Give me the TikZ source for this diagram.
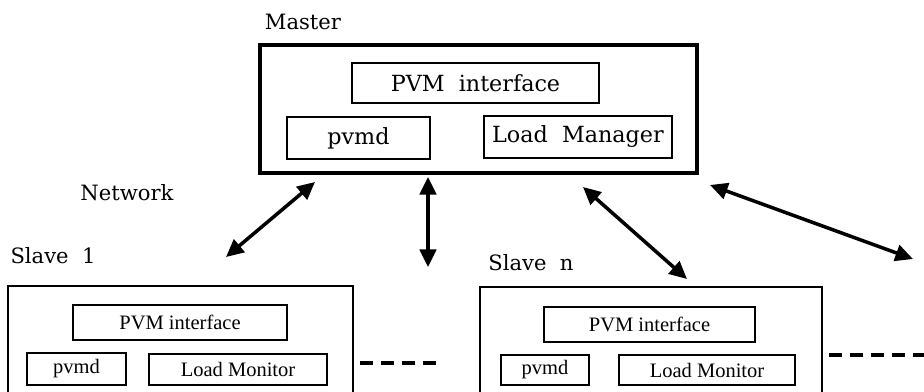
\documentclass[tikz,border=0pt]{standalone}
\usepackage{fontspec}
\setmainfont{DejaVu Serif}
\newfontfamily\slavefont{Liberation Serif}
\usepackage{tikz}
\usetikzlibrary{arrows.meta}
\tikzset{
  hostbox/.style={draw=black, line width=3.4pt, inner sep=0pt},
  slavebox/.style={draw=black, line width=2.4pt, inner sep=0pt},
  mpart/.style={draw=black, line width=1.2pt, inner sep=0pt, font=\fontsize{19}{22}\selectfont},
  spart/.style={draw=black, line width=1.2pt, inner sep=0pt, font=\slavefont\fontsize{17.5}{20}\selectfont},
  tag/.style={inner sep=0pt, font=\fontsize{18}{21}\selectfont},
  link/.style={{Triangle[length=15pt,width=14pt]}-{Triangle[length=15pt,width=14pt]}, line width=3pt},
  more/.style={dash pattern=on 11pt off 7pt, line width=2.6pt}
}

\begin{document}
\begin{tikzpicture}[x=0.3mm, y=-0.3mm]
  \useasboundingbox (0,0) rectangle (924,392);
  \clip (0,0) rectangle (924,392);

  % master host
  \node[tag] (mtag) at (303, 22){Master};
  \node[hostbox, minimum width=131.1mm, minimum height=38.4mm] (m) at (478.5, 109){};
  \node[mpart, minimum width=74.1mm, minimum height=12mm] (mpvm) at (475.5, 83){PVM\ \ interface};
  \node[mpart, minimum width=42.9mm, minimum height=12.6mm] (mpvmd) at (358.5, 138){pvmd};
  \node[mpart, minimum width=56.4mm, minimum height=12.6mm] (mlm) at (578, 137){Load\ \ Manager};

  \node[tag] (net) at (127, 193){Network};

  % slave 1
  \node[tag] (s1tag) at (53, 256){Slave\ \ 1};
  \node[slavebox, minimum width=103.5mm, minimum height=34.2mm] (s1) at (180.5, 343){};
  \node[spart, minimum width=64.2mm, minimum height=10.5mm] (s1pvm) at (180, 322.5){PVM interface};
  \node[spart, minimum width=29.7mm, minimum height=9.6mm] (s1pvmd) at (76.5, 369){pvmd};
  \node[spart, minimum width=53.4mm, minimum height=9.3mm] (s1lm) at (238, 369.5){Load Monitor};

  % slave n
  \node[tag] (sntag) at (531, 263){Slave\ \ n};
  \node[slavebox, minimum width=102.6mm, minimum height=33.9mm] (sn) at (651, 343.5){};
  \node[spart, minimum width=63.3mm, minimum height=10.5mm] (snpvm) at (649.5, 324.5){PVM interface};
  \node[spart, minimum width=26.4mm, minimum height=9mm] (snpvmd) at (545, 370){pvmd};
  \node[spart, minimum width=52.8mm, minimum height=9mm] (snlm) at (707, 370){Load Monitor};

  % network links
  \coordinate (l1a) at (315, 182);
  \coordinate (l1b) at (226, 257);
  \coordinate (l2a) at (428, 177);
  \coordinate (l2b) at (428, 267);
  \coordinate (l3a) at (583, 187);
  \coordinate (l3b) at (687, 279);
  \coordinate (l4a) at (710, 185);
  \coordinate (l4b) at (913, 259);
  \draw[link](l1a)--(l1b);
  \draw[link](l2a)--(l2b);
  \draw[link](l3a)--(l3b);
  \draw[link](l4a)--(l4b);

  % further slaves
  \coordinate (d1a) at (360, 363);
  \coordinate (d1b) at (440, 363);
  \coordinate (dna) at (829, 355);
  \coordinate (dnb) at (924, 355);
  \draw[more](d1a)--(d1b);
  \draw[more](dna)--(dnb);
\end{tikzpicture}
\end{document}
